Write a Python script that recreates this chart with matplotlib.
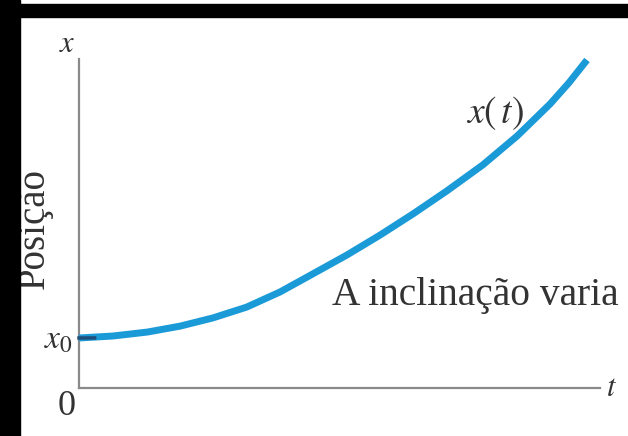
import matplotlib
matplotlib.use("Agg")
import matplotlib.pyplot as plt
from matplotlib.patches import Rectangle

plt.rcParams['mathtext.fontset'] = 'stix'
plt.rcParams['font.family'] = ['Liberation Serif', 'DejaVu Serif']

# Data (time, position)
t_vals = [0.0, 0.65, 1.31, 1.94, 2.57, 3.22, 3.86, 4.49, 5.14, 5.78,
          6.41, 7.06, 7.75, 8.41, 9.04, 9.40, 9.75]
x_vals = [1.52, 1.58, 1.70, 1.88, 2.13, 2.46, 2.92, 3.47, 4.04, 4.65,
          5.29, 5.99, 6.78, 7.66, 8.63, 9.27, 9.97]

x0_value = 1.52
ylabel_text = "Posição"
slope_text = "A inclinação varia"
curve_label = "$x(\\,t)$"

W, H = 628, 436
fig = plt.figure(figsize=(W / 100, H / 100), dpi=100)
fig.patch.set_facecolor('white')

# black frame bands (top and left), drawn above everything
fig.patches.append(Rectangle((0, 1 - 17 / H), 1, 13 / H, transform=fig.transFigure,
                             color='black', zorder=10))
fig.patches.append(Rectangle((0, 0), 20 / W, 1, transform=fig.transFigure,
                             color='black', zorder=10))

ax = fig.add_axes([79 / W, 48 / H, 521 / W, 329 / H])
ax.set_facecolor('none')
ax.set_xlim(0, 10)
ax.set_ylim(0, 10)
for s in ['top', 'right']:
    ax.spines[s].set_visible(False)
for s in ['left', 'bottom']:
    ax.spines[s].set_color('#8a8a8a')
    ax.spines[s].set_linewidth(1.6)
ax.set_xticks([])
ax.set_yticks([])

ax.plot(t_vals, x_vals, color='#1b9ad8', linewidth=5, solid_capstyle='butt',
        solid_joinstyle='round', clip_on=False, zorder=3)
ax.plot([0, 0.3], [x0_value, x0_value + 0.002], color='#1f4f7a', linewidth=2.5,
        clip_on=False, zorder=4)

txt = '#333333'
ax.text(-0.23, 10.45, '$x$', fontsize=22, ha='center', va='center', color=txt)
ax.text(10.23, 0.0, '$t$', fontsize=22, ha='center', va='center', color=txt)
ax.text(-0.23, -0.55, '0', fontsize=26, ha='center', va='center', color=txt)
ax.text(-0.12, x0_value - 0.08, '$x_0$', fontsize=24, ha='right', va='center', color=txt)
ax.text(-0.86, 4.85, ylabel_text, fontsize=28, rotation=90, ha='center', va='center',
        color=txt)
ax.text(7.98, 8.35, curve_label, fontsize=27, ha='center', va='center', color=txt)
ax.text(4.86, 2.52, slope_text, fontsize=28.4, ha='left', va='baseline', color=txt)

fig.savefig('out.png', dpi=100)
